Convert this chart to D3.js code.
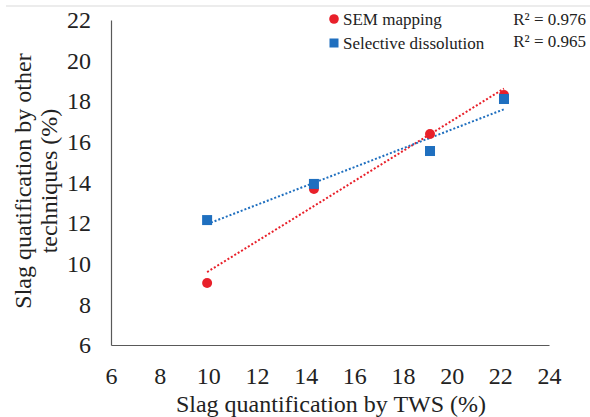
<!DOCTYPE html>
<html>
<head>
<meta charset="utf-8">
<script src="https://cdn.jsdelivr.net/npm/d3@7"></script>
<style>
  body { margin: 0; background: #fff; }
</style>
</head>
<body>
<svg id="chart"></svg>
<script>
const W = 590, H = 417;
const margin = { top: 20, right: 41, bottom: 72, left: 111 };
const width = W - margin.left - margin.right;
const height = H - margin.top - margin.bottom;
const FONT = '"Liberation Serif"';

// TWS values (x) and the other techniques (y)
const twsValues = [9.95, 14.34, 19.11, 22.15];
const semValues = [9.05, 13.68, 16.39, 18.31];
const dissolutionValues = [12.15, 13.93, 15.55, 18.11];
const xTicks = [6, 8, 10, 12, 14, 16, 18, 20, 22, 24];
const yTicks = [6, 8, 10, 12, 14, 16, 18, 20, 22];
const seriesNames = ["SEM mapping", "Selective dissolution"];
const r2Labels = ["R² = 0.976", "R² = 0.965"];

const red = "#e8202a", blue = "#1f6fbf";

const svg = d3.select("#chart").attr("width", W).attr("height", H)
  .style("font-family", FONT);

// faint frame line at the top
svg.append("line")
  .attr("x1", 6).attr("x2", W).attr("y1", 6).attr("y2", 6)
  .attr("stroke", "#e6e6e6").attr("stroke-width", 1.5);

const g = svg.append("g").attr("transform", `translate(${margin.left},${margin.top})`);

const x = d3.scaleLinear().domain([6, 24]).range([0, width]);
const y = d3.scaleLinear().domain([6, 22]).range([height, 0]);

function styleAxis(sel) {
  sel.attr("font-family", null);
  sel.select(".domain").attr("stroke", "#595959").attr("stroke-width", 1.2);
  sel.selectAll("text")
    .style("font-size", "24px")
    .style("font-family", FONT)
    .attr("fill", "#222");
}

// axes
g.append("g")
  .attr("transform", `translate(0,${height})`)
  .call(d3.axisBottom(x).tickValues(xTicks).tickSize(0).tickPadding(22))
  .call(styleAxis);

g.append("g")
  .call(d3.axisLeft(y).tickValues(yTicks).tickSize(0).tickPadding(20))
  .call(styleAxis);

// axis titles
svg.append("text")
  .attr("x", 331).attr("y", 412)
  .attr("text-anchor", "middle")
  .style("font-family", FONT).style("font-size", "24px").attr("fill", "#222")
  .text("Slag quantification by TWS (%)");

const yTitle = svg.append("text")
  .attr("transform", "translate(0,181) rotate(-90)")
  .attr("text-anchor", "middle")
  .style("font-family", FONT).style("font-size", "24px").attr("fill", "#222");
yTitle.append("tspan").attr("x", 0).attr("y", 31).text("Slag quatification by other");
yTitle.append("tspan").attr("x", 0).attr("y", 57).text("techniques (%)");

// linear trendlines
function fit(xs, ys) {
  const mx = d3.mean(xs), my = d3.mean(ys);
  const sxy = d3.sum(xs, (v, i) => (v - mx) * (ys[i] - my));
  const sxx = d3.sum(xs, v => (v - mx) * (v - mx));
  const slope = sxy / sxx;
  return v => my + slope * (v - mx);
}

const series = [
  { name: seriesNames[0], ys: semValues, color: red },
  { name: seriesNames[1], ys: dissolutionValues, color: blue }
];

series.forEach(s => {
  const f = fit(twsValues, s.ys);
  const ext = d3.extent(twsValues);
  g.append("path")
    .datum(ext)
    .attr("fill", "none")
    .attr("stroke", s.color)
    .attr("stroke-width", 2)
    .attr("stroke-dasharray", "2,2")
    .attr("d", d3.line().x(d => x(d)).y(d => y(f(d))));
});

// points
g.selectAll("circle.sem")
  .data(twsValues.map((v, i) => [v, semValues[i]]))
  .join("circle")
  .attr("class", "sem")
  .attr("cx", d => x(d[0]))
  .attr("cy", d => y(d[1]))
  .attr("r", 5)
  .attr("fill", red);

g.selectAll("rect.diss")
  .data(twsValues.map((v, i) => [v, dissolutionValues[i]]))
  .join("rect")
  .attr("class", "diss")
  .attr("x", d => x(d[0]) - 5)
  .attr("y", d => y(d[1]) - 5)
  .attr("width", 10)
  .attr("height", 10)
  .attr("fill", blue);

// legend
const legend = svg.append("g");
legend.append("circle").attr("cx", 334).attr("cy", 19).attr("r", 4.8).attr("fill", red);
legend.append("rect").attr("x", 329.5).attr("y", 38.5).attr("width", 9).attr("height", 9).attr("fill", blue);
const lt = (xx, yy, anchor, s) => legend.append("text")
  .attr("x", xx).attr("y", yy).attr("text-anchor", anchor)
  .style("font-family", FONT).style("font-size", "17px").attr("fill", "#222")
  .text(s);
lt(343, 25, "start", seriesNames[0]);
lt(343, 49, "start", seriesNames[1]);
lt(586, 25, "end", r2Labels[0]);
lt(586, 47, "end", r2Labels[1]);
</script>
</body>
</html>
